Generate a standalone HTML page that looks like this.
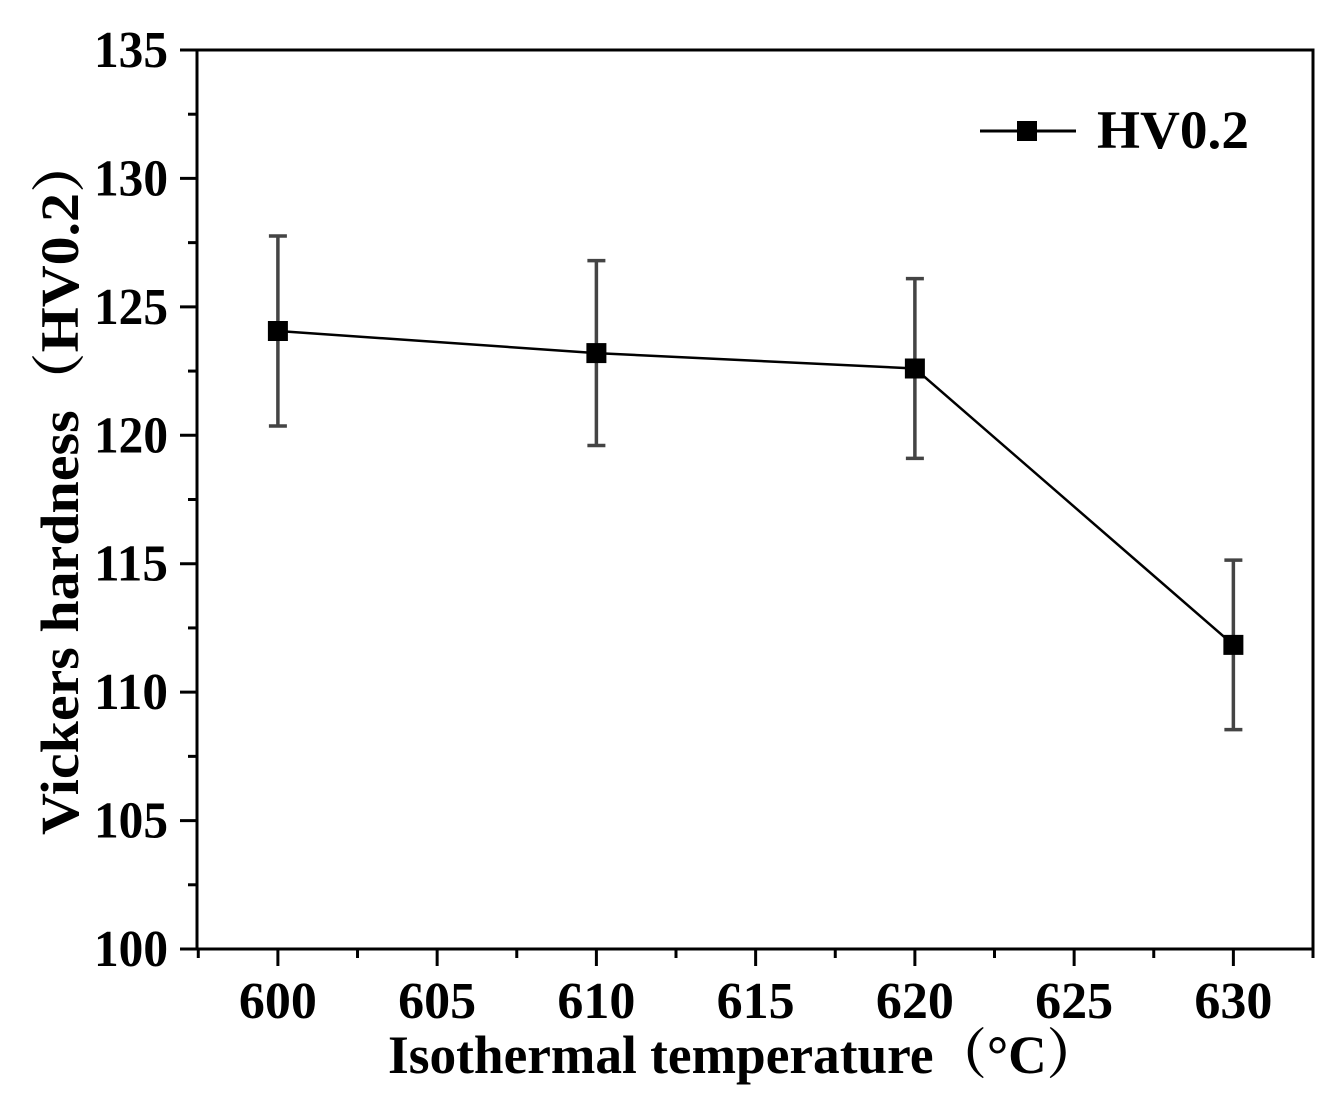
<!DOCTYPE html>
<html><head><meta charset="utf-8"><style>
body{margin:0;background:#fff;}
svg text{font-family:"Liberation Serif","Noto Serif CJK SC",serif;font-weight:bold;fill:#000;}
</style></head><body>
<svg id="c" width="1344" height="1112" xmlns="http://www.w3.org/2000/svg"></svg>
<script>
const temps=[600,610,620,630];
const hardness=[124.06,123.2,122.6,111.84];
const errors=[3.7,3.6,3.5,3.3];
const xTicks=[600,605,610,615,620,625,630];
const yTicks=[100,105,110,115,120,125,130,135];
const L=197,R=1313,T=50,B=949;
const x=v=>L+(v-597.46)/(632.5-597.46)*(R-L);
const y=v=>B-(v-100)/35*(B-T);
const svg=document.getElementById('c');
const NS='http://www.w3.org/2000/svg';
function mk(tag,attrs,parent){const e=document.createElementNS(NS,tag);for(const k in attrs)e.setAttribute(k,attrs[k]);(parent||svg).appendChild(e);return e;}
let e;
e=mk('path',{d:`M${L},${T}H${R}V${B}H${L}Z`,fill:'none',stroke:'#000','stroke-width':3});


yTicks.forEach((v,i)=>{
  e=mk('line',{x1:L-17,x2:L,y1:y(v),y2:y(v),stroke:'#000','stroke-width':3});
  
  
  if(i<yTicks.length-1){
    e=mk('line',{x1:L-9,x2:L,y1:y(v+2.5),y2:y(v+2.5),stroke:'#000','stroke-width':3});
    
    
  }
  e=mk('text',{x:168,y:y(v)+17,'font-size':52,'text-anchor':'end',textLength:74,lengthAdjust:'spacingAndGlyphs'});
  e.textContent=v;
  
  
});
xTicks.forEach((v,i)=>{
  e=mk('line',{x1:x(v),x2:x(v),y1:B,y2:B+17,stroke:'#000','stroke-width':3});
  
  
  e=mk('text',{x:x(v),y:1018,'font-size':52,'text-anchor':'middle',textLength:78,lengthAdjust:'spacingAndGlyphs'});
  e.textContent=v;
  
  
});
[597.5,602.5,607.5,612.5,617.5,622.5,627.5,632.5].forEach(v=>{
  e=mk('line',{x1:x(v),x2:x(v),y1:B,y2:B+9,stroke:'#000','stroke-width':3});
  
  
});
e=mk('polyline',{points:temps.map((t,i)=>x(t)+','+y(hardness[i])).join(' '),fill:'none',stroke:'#000','stroke-width':2.5});


temps.forEach((t,i)=>{
  const cx=x(t),top=y(hardness[i]+errors[i]),bot=y(hardness[i]-errors[i]);
  e=mk('path',{d:`M${cx},${top}V${bot}M${cx-9},${top}H${cx+9}M${cx-9},${bot}H${cx+9}`,stroke:'#444','stroke-width':3.5,fill:'none'});
  
  
  e=mk('rect',{x:cx-10,y:y(hardness[i])-10,width:20,height:20,fill:'#000'});
  
  
});
e=mk('g',{});


mk('line',{x1:980,x2:1076,y1:131,y2:131,stroke:'#000','stroke-width':3},e);
mk('rect',{x:1017,y:121,width:20,height:20,fill:'#000'},e);
const lt=mk('text',{x:1097,y:148,'font-size':54,textLength:152,lengthAdjust:'spacingAndGlyphs'},e);lt.textContent='HV0.2';
e=mk('text',{x:744,y:1073,'font-size':54,'text-anchor':'middle',textLength:712,lengthAdjust:'spacingAndGlyphs'});
e.textContent='Isothermal temperature（°C）';


e=mk('text',{x:0,y:0,'font-size':54,'text-anchor':'middle',transform:'translate(78,485) rotate(-90)',textLength:700,lengthAdjust:'spacingAndGlyphs'});
e.textContent='Vickers hardness（HV0.2）';


</script>
</body></html>
